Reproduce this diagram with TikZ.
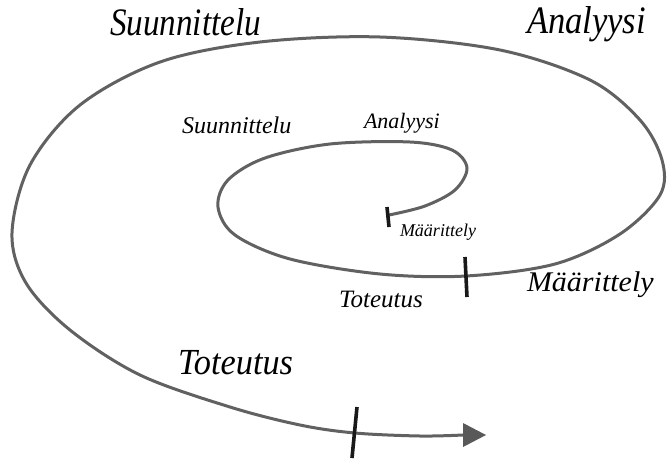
\documentclass[tikz,border=0pt]{standalone}
\usepackage{fontspec}
\setmainfont{Liberation Serif}
\usetikzlibrary{arrows.meta}
\begin{document}
\begin{tikzpicture}[x=1pt,y=-1pt,
  curve/.style={line width=3pt, draw=black!62, line cap=round},
  tick/.style={line width=3.6pt, draw=black!90},
  lbl/.style={anchor=base west, inner sep=0pt, outer sep=0pt, font=\itshape},
]
\useasboundingbox (0,0) rectangle (667,459);
% named points along the spiral
\coordinate (s0) at (389,215);
\coordinate (m1) at (466,276);
\coordinate (b1) at (355,433);
\coordinate (e) at (486,435);
% spiral
\draw[curve] plot[smooth, tension=0.55] coordinates {
 (s0) (425,206) (455,190) (467,168) (452,150) (410,142) (330,144)
 (265,158) (228,180) (218,207) (235,235) (290,259) (380,274) (m1)
 (555,264) (620,234) (660,195) (662,160) (640,120) (590,80) (500,50)
 (380,37) (260,42) (160,62) (80,105) (30,165) (12,233) (26,283)
 (70,330) (140,375) (230,407) (300,425) (b1) (420,436) (463,435)};
\fill[black!65] (463,423) -- (e) -- (463,447) -- cycle;
% ticks
\draw[tick] (387,207) -- (389,227);
\draw[tick] (465,257) -- (467,297);
\draw[tick] (357,407) -- (352,458);
% labels
\node[lbl, font=\itshape\fontsize{36}{40}\selectfont] (tSuuL) at (110,35) {\scalebox{0.92}[1.08]{Suunnittelu}};
\node[lbl, font=\itshape\fontsize{36}{40}\selectfont] (tAnaL) at (527,33) {\scalebox{0.96}[1.08]{Analyysi}};
\node[lbl, font=\itshape\fontsize{30}{34}\selectfont] (tMaaL) at (527,291) {\scalebox{1.0}[0.95]{Määrittely}};
\node[lbl, font=\itshape\fontsize{35}{40}\selectfont] (tTotL) at (178,374) {\scalebox{0.98}[1.05]{Toteutus}};
\node[lbl, font=\itshape\fontsize{24}{28}\selectfont] (tSuuS) at (182,133) {\scalebox{1.0}[1.0]{Suunnittelu}};
\node[lbl, font=\itshape\fontsize{22}{26}\selectfont] (tAnaS) at (364,128) {\scalebox{1.0}[1.0]{Analyysi}};
\node[lbl, font=\itshape\fontsize{18}{22}\selectfont] (tMaaS) at (400,236) {\scalebox{1.0}[1.0]{Määrittely}};
\node[lbl, font=\itshape\fontsize{25}{29}\selectfont] (tTotS) at (339,307) {\scalebox{1.0}[1.0]{Toteutus}};
\end{tikzpicture}
\end{document}
